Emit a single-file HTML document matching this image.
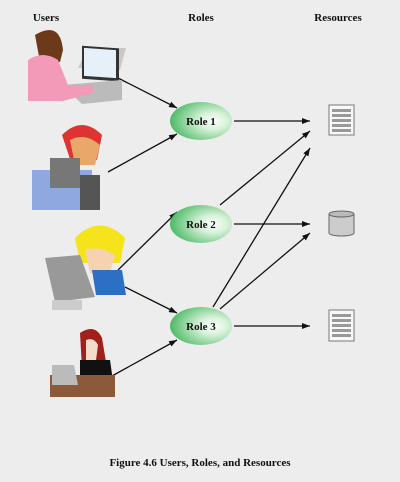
<!DOCTYPE html>
<html><head><style>
body{margin:0;background:#ededed;}
svg{display:block}
text{font-family:"Liberation Serif",serif;font-weight:bold;fill:#111}
</style></head><body>
<svg width="400" height="482" viewBox="0 0 400 482">
<defs>
<radialGradient id="g" cx="0.7" cy="0.5" r="0.75"><stop offset="0" stop-color="#fbfffb"/><stop offset="0.3" stop-color="#d8f2da"/><stop offset="1" stop-color="#3fb45a"/></radialGradient>
<marker id="a" markerWidth="8" markerHeight="6" refX="8" refY="3" orient="auto" markerUnits="userSpaceOnUse"><path d="M0,0L8,3L0,6z" fill="#111"/></marker>
</defs>
<rect width="400" height="482" fill="#ededed"/>
<text x="46" y="21" font-size="11" text-anchor="middle">Users</text>
<text x="201" y="21" font-size="11" text-anchor="middle">Roles</text>
<text x="338" y="21" font-size="11" text-anchor="middle">Resources</text>
<g stroke="#111" stroke-width="1.3" marker-end="url(#a)">
<line x1="118" y1="78" x2="177" y2="108"/>
<line x1="108" y1="172" x2="177" y2="134"/>
<line x1="118" y1="270" x2="177" y2="212"/>
<line x1="125" y1="287" x2="177" y2="313"/>
<line x1="112" y1="376" x2="177" y2="340"/>
<line x1="234" y1="121" x2="310" y2="121"/>
<line x1="234" y1="224" x2="310" y2="224"/>
<line x1="234" y1="326" x2="310" y2="326"/>
<line x1="220" y1="205" x2="310" y2="131"/>
<line x1="213" y1="307" x2="310" y2="148"/>
<line x1="220" y1="309" x2="310" y2="233"/>
</g>
<g>
<ellipse cx="201" cy="121" rx="31" ry="19" fill="url(#g)"/>
<ellipse cx="201" cy="224" rx="31" ry="19" fill="url(#g)"/>
<ellipse cx="201" cy="326" rx="31" ry="19" fill="url(#g)"/>
</g>
<text x="201" y="125" font-size="11" text-anchor="middle">Role 1</text>
<text x="201" y="228" font-size="11" text-anchor="middle">Role 2</text>
<text x="201" y="330" font-size="11" text-anchor="middle">Role 3</text>
<g>
<rect x="329" y="105" width="25" height="30" fill="#f8f8f8" stroke="#777"/>
<g fill="#999"><rect x="332" y="109" width="19" height="3"/><rect x="332" y="114" width="19" height="3"/><rect x="332" y="119" width="19" height="3"/><rect x="332" y="124" width="19" height="3"/><rect x="332" y="129" width="19" height="3"/></g>
<path d="M329,214 v19 a12.5,3 0 0 0 25,0 v-19" fill="#ccc" stroke="#666"/>
<ellipse cx="341.5" cy="214" rx="12.5" ry="3" fill="#bbb" stroke="#666"/>
<rect x="329" y="310" width="25" height="31" fill="#f8f8f8" stroke="#777"/>
<g fill="#999"><rect x="332" y="314" width="19" height="3"/><rect x="332" y="319" width="19" height="3"/><rect x="332" y="324" width="19" height="3"/><rect x="332" y="329" width="19" height="3"/><rect x="332" y="334" width="19" height="3"/></g>
</g>
<path d="M78,68 l10,-20 l38,0 l-6,22 z" fill="#c9c9c9"/>
<rect x="82" y="46" width="37" height="33" fill="#333" transform="skewY(4) translate(0,-6)"/>
<rect x="84" y="48" width="32" height="28" fill="#e6f0f8" transform="skewY(4) translate(0,-6)"/>
<path d="M62,85 l60,-5 l0,20 l-40,4 z" fill="#bbb"/>
<path d="M35,35 q25,-15 28,15 l-3,12 l-20,0 z" fill="#6b3a1a"/>
<path d="M28,60 q15,-10 30,0 l10,25 l25,0 l0,8 l-30,8 l-35,0 z" fill="#f29ab8"/>
<path d="M62,135 q20,-20 40,0 l-5,25 l-25,5 z" fill="#d33"/>
<path d="M70,140 q15,-8 30,5 l-5,20 l-20,0 z" fill="#e9a76a"/>
<rect x="32" y="170" width="60" height="40" fill="#8fa8e0"/>
<rect x="50" y="158" width="30" height="30" fill="#777"/>
<rect x="80" y="175" width="20" height="35" fill="#555"/>
<path d="M75,238 q25,-25 50,0 l-5,25 l-40,0 z" fill="#f5e31b"/>
<path d="M85,250 q15,-5 30,5 l-5,18 l-20,0 z" fill="#f7d2b0"/>
<path d="M92,270 l30,0 l4,25 l-30,0 z" fill="#2e6fc6"/>
<path d="M45,258 l35,-3 l15,42 l-40,5 z" fill="#999"/>
<rect x="52" y="300" width="30" height="10" fill="#ccc"/>
<path d="M80,333 q15,-10 22,5 l5,30 l-25,0 z" fill="#a0201a"/>
<path d="M86,340 q8,-3 12,5 l-2,15 l-10,0 z" fill="#f4dccb"/>
<path d="M80,360 l30,0 l5,35 l-35,0 z" fill="#111"/>
<rect x="50" y="375" width="65" height="22" fill="#8b5a3a"/>
<path d="M52,365 l22,0 l4,20 l-26,0 z" fill="#bbb"/>
<text x="200" y="466" font-size="11" text-anchor="middle">Figure 4.6  Users, Roles, and Resources</text>
</svg>
</body></html>
